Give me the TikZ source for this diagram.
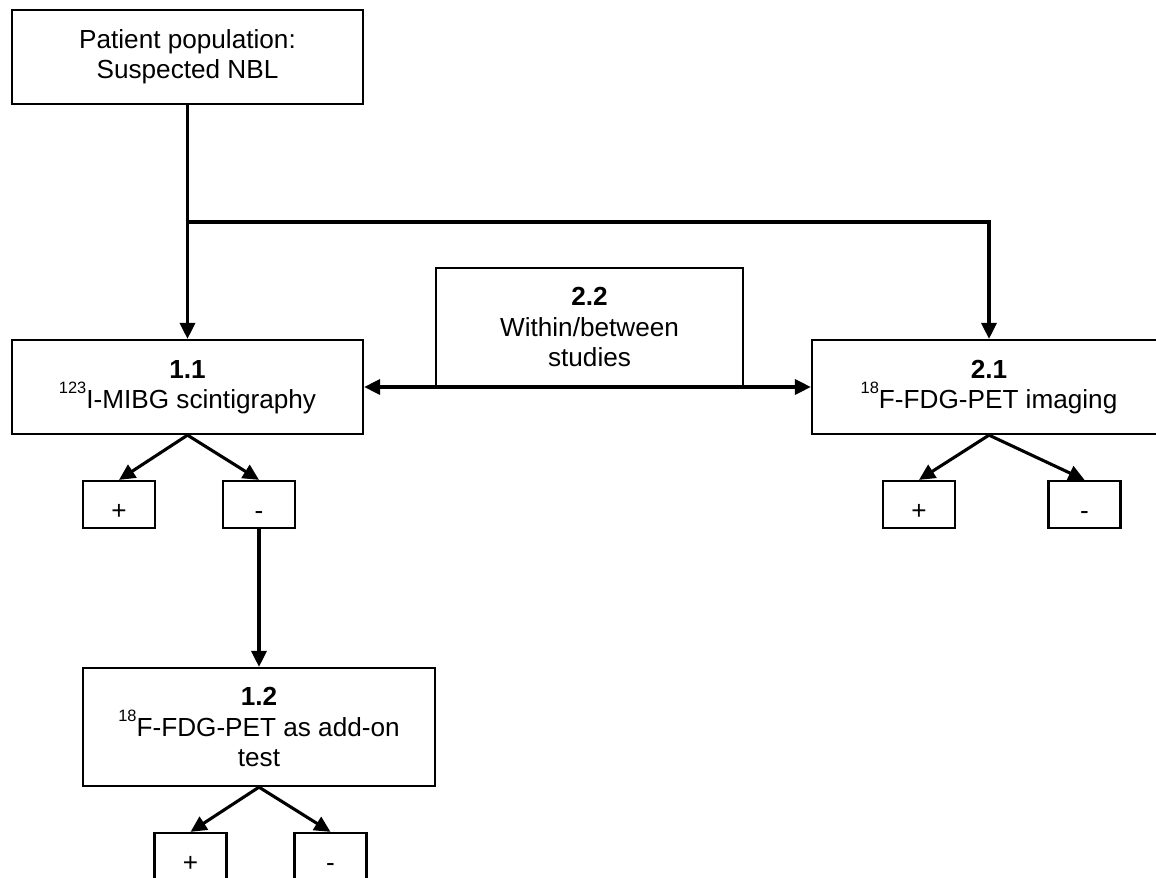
\documentclass[tikz,border=0pt]{standalone}
\usepackage{fontspec}
\setmainfont{Liberation Sans}
\usetikzlibrary{arrows.meta}
\newcommand\isotope[1]{\raisebox{10.5pt}{\fontsize{11.7pt}{12pt}\selectfont #1}}
\begin{document}
\begin{tikzpicture}[x=0.025cm,y=-0.025cm,
     box/.style={draw,line width=1.6pt,align=center,inner sep=0pt,font=\fontsize{18.6pt}{21.5pt}\selectfont},
     bigbox/.style={box,minimum width=8.775cm,minimum height=2.35cm},
     pmbox/.style={draw,line width=1.6pt,inner sep=0pt,font=\fontsize{18.6pt}{21.5pt}\selectfont,
                   minimum width=1.8cm,minimum height=1.175cm,text height=21pt,text depth=0pt},
     arr/.style={line width=2.2pt,-{Triangle[length=0.4cm,width=0.38cm]}},
     arrs/.style={line width=2.2pt,{Triangle[length=0.4cm,width=0.38cm]}-{Triangle[length=0.4cm,width=0.38cm]}}]%
     \useasboundingbox (0,0) rectangle (1156,878);

     \node [bigbox] at (187.5,57) (pat) {Patient population:\\Suspected NBL};
     \node [bigbox] at (187.5,387) (mibg) {\textbf{1.1}\\\isotope{123}I-MIBG scintigraphy};
     \node [bigbox,minimum width=8.85cm] at (989,387) (fdg) {\textbf{2.1}\\\isotope{18}F-FDG-PET imaging};
     \node [box,minimum width=7.675cm,minimum height=2.95cm] at (589.5,327) (within) {\textbf{2.2}\\Within/between\\studies};
     \node [bigbox,minimum width=8.8cm,minimum height=2.95cm] at (259,727) (addon) {\textbf{1.2}\\\isotope{18}F-FDG-PET as add-on\\test};

     \node [pmbox] at (119,504.5) (mibgpos) {+};
     \node [pmbox] at (259,504.5) (mibgneg) {-};
     \node [pmbox] at (919,504.5) (fdgpos) {+};
     \node [pmbox] at (1084.5,504.5) (fdgneg) {-};
     \node [pmbox] at (190.5,856.5) (addonpos) {+};
     \node [pmbox] at (330.5,856.5) (addonneg) {-};

      \coordinate (split) at (187.5,222);
      \draw [arr] (pat) -- (mibg);
      \draw [arr] (split) -| (fdg);
      \draw [arrs] (mibg) -- (fdg);

      \draw [arr] (mibg.south) -- (mibgpos.north);
      \draw [arr] (mibg.south) -- (mibgneg.north);
      \draw [arr] (fdg.south) -- (fdgpos.north);
      \draw [arr] (fdg.south) -- (fdgneg.north);
      \draw [arr] (mibgneg) -- (addon);
      \draw [arr] (addon.south) -- (addonpos.north);
      \draw [arr] (addon.south) -- (addonneg.north);
\end{tikzpicture}
\end{document}
